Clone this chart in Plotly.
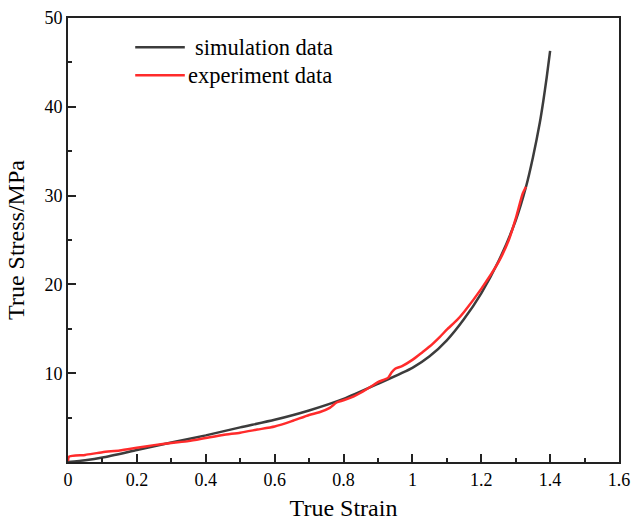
import plotly.graph_objects as go

# Simulation curve
sim_strain = [0, 0.05, 0.1, 0.2, 0.3, 0.4, 0.5, 0.6, 0.7, 0.8, 0.9, 1.0, 1.05, 1.1, 1.15,
              1.2, 1.25, 1.3, 1.33, 1.35, 1.37, 1.38, 1.39, 1.4]
sim_stress = [0, 0.2, 0.5, 1.35, 2.2, 3.0, 3.9, 4.75, 5.8, 7.1, 8.8, 10.6, 11.9, 13.7, 16.1,
              19.0, 22.6, 27.2, 31.0, 34.3, 38.2, 40.6, 43.3, 46.3]

# Experiment curve
exp_strain = [0, 0.003, 0.05, 0.1, 0.15, 0.2, 0.25, 0.3, 0.35, 0.4, 0.45, 0.5, 0.55, 0.6,
              0.65, 0.7, 0.73, 0.76, 0.78, 0.8, 0.83, 0.85, 0.88, 0.9, 0.93, 0.94, 0.95,
              0.97, 1.0, 1.03, 1.05, 1.08, 1.1, 1.13, 1.15, 1.2, 1.25, 1.28, 1.3, 1.32, 1.33]
exp_stress = [0.1, 0.6, 0.8, 1.1, 1.3, 1.6, 1.9, 2.15, 2.35, 2.7, 3.05, 3.3, 3.65, 4.0,
              4.6, 5.3, 5.6, 6.1, 6.7, 6.95, 7.4, 7.8, 8.5, 9.0, 9.5, 10.1, 10.5,
              10.8, 11.5, 12.4, 13.0, 14.1, 14.9, 16.0, 16.9, 19.5, 22.5, 25.0, 27.4, 30.2, 31.0]

series_names = ["simulation data", "experiment data"]
series_colors = ["#3c3c3c", "#ff2b2b"]

x_ticks = [0, 0.2, 0.4, 0.6, 0.8, 1.0, 1.2, 1.4, 1.6]
x_ticklabels = ["0", "0.2", "0.4", "0.6", "0.8", "1", "1.2", "1.4", "1.6"]
y_ticks = [10, 20, 30, 40, 50]

FONT = "Liberation Serif, Times New Roman, serif"

fig = go.Figure()
fig.add_trace(go.Scatter(x=sim_strain, y=sim_stress, mode="lines", name=series_names[0],
                         line=dict(color=series_colors[0], width=2.5, shape="spline", smoothing=0.6),
                         showlegend=False))
fig.add_trace(go.Scatter(x=exp_strain, y=exp_stress, mode="lines", name=series_names[1],
                         line=dict(color=series_colors[1], width=2.5, shape="spline", smoothing=0.6),
                         showlegend=False))

# Manual legend
leg_y = [0.934, 0.871]
for i, (nm, col) in enumerate(zip(series_names, series_colors)):
    fig.add_shape(type="line", xref="paper", yref="paper",
                  x0=0.122, x1=0.212, y0=leg_y[i], y1=leg_y[i],
                  line=dict(color=col, width=2.5))
    fig.add_annotation(xref="paper", yref="paper", x=0.226 if i == 0 else 0.214, y=leg_y[i],
                       text=nm, showarrow=False, xanchor="left", yanchor="middle",
                       font=dict(family=FONT, size=22.5, color="black"))

fig.update_layout(
    width=633, height=521,
    margin=dict(l=68, r=14, t=18, b=59, autoexpand=False),
    paper_bgcolor="white", plot_bgcolor="white",
    font=dict(family=FONT, size=18, color="black"),
)
fig.update_xaxes(
    range=[0, 1.6], tickvals=x_ticks, ticktext=x_ticklabels,
    ticks="inside", ticklen=8, tickwidth=2, tickcolor="#222",
    minor=dict(tickvals=[0.1, 0.3, 0.5, 0.7, 0.9, 1.1, 1.3, 1.5], ticks="inside", ticklen=4, tickwidth=2, tickcolor="#222"),
    showline=True, linewidth=2, linecolor="#222", mirror=True,
    showgrid=False, zeroline=False, automargin=False,
    title=dict(text="True Strain", font=dict(family=FONT, size=24, color="black"), standoff=13),
    tickfont=dict(family=FONT, size=18),
)
fig.update_yaxes(
    range=[0, 50], tickvals=y_ticks,
    ticks="inside", ticklen=8, tickwidth=2, tickcolor="#222",
    minor=dict(tickvals=[5, 15, 25, 35, 45], ticks="inside", ticklen=4, tickwidth=2, tickcolor="#222"),
    showline=True, linewidth=2, linecolor="#222", mirror=True,
    showgrid=False, zeroline=False, automargin=False,
    title=dict(text="True Stress/MPa", font=dict(family=FONT, size=24, color="black"), standoff=13),
    tickfont=dict(family=FONT, size=18),
)

fig.write_html("out.html")
